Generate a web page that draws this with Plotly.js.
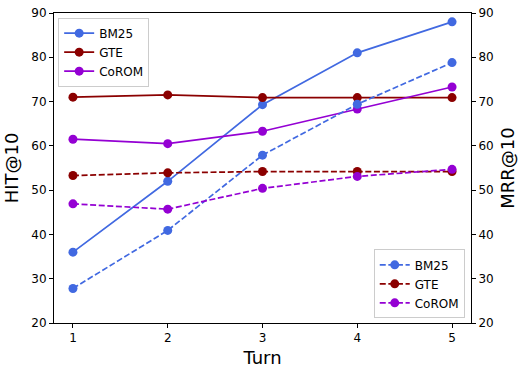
<!DOCTYPE html>
<html>
<head>
<meta charset="utf-8">
<script src="https://cdn.plot.ly/plotly-3.0.1.min.js"></script>
<style>
    html, body { margin: 0; padding: 0; background: #fff; }
    #chart { width: 525px; height: 374px; }
</style>
</head>
<body>
<div id="chart"></div>
<script>
// turns on the x axis
const turns = [1, 2, 3, 4, 5];

// HIT@10 (solid, left axis)
const hitBM25 = [36, 52, 69.3, 81, 88];
const hitGTE = [71, 71.5, 70.9, 70.9, 70.9];
const hitCoROM = [61.5, 60.5, 63.3, 68.3, 73.3];

// MRR@10 (dashed, right axis)
const mrrBM25 = [27.8, 40.9, 57.9, 69.4, 78.8];
const mrrGTE = [53.3, 53.9, 54.2, 54.2, 54.2];
const mrrCoROM = [46.9, 45.7, 50.4, 53.1, 54.7];

const yTicks = [20, 30, 40, 50, 60, 70, 80, 90];

const colors = {
    BM25: 'royalblue',
    GTE: 'darkred',
    CoROM: 'darkviolet'
};

/**
 * Builds one line trace.
 */
function makeTrace(name, values, dashed) {
    return {
        x: turns,
        y: values,
        type: 'scatter',
        mode: 'lines+markers',
        name: name,
        line: { color: colors[name], width: 1.7, dash: dashed ? '6px,2.6px' : 'solid' },
        marker: { color: colors[name], size: 9 },
        yaxis: dashed ? 'y2' : 'y',
        legend: dashed ? 'legend2' : 'legend'
    };
}

const traces = [
    makeTrace('BM25', hitBM25, false),
    makeTrace('GTE', hitGTE, false),
    makeTrace('CoROM', hitCoROM, false),
    makeTrace('BM25', mrrBM25, true),
    makeTrace('GTE', mrrGTE, true),
    makeTrace('CoROM', mrrCoROM, true)
];

const axisFont = { family: 'DejaVu Sans', size: 12, color: '#000' };
const titleFont = { family: 'DejaVu Sans', size: 18, color: '#000' };

const legendStyle = {
    font: { family: 'DejaVu Sans', size: 12, color: '#000' },
    bgcolor: 'rgba(255,255,255,0.8)',
    bordercolor: '#cccccc',
    borderwidth: 1,
    itemwidth: 30,
    tracegroupgap: 0
};

const layout = {
    width: 525,
    height: 374,
    margin: { l: 54, r: 54, t: 13, b: 51 },
    paper_bgcolor: '#fff',
    plot_bgcolor: '#fff',
    showlegend: true,
    xaxis: {
        range: [0.8, 5.2],
        tickvals: turns,
        ticks: 'outside',
        ticklen: 4,
        tickcolor: '#000',
        showgrid: false,
        zeroline: false,
        showline: true,
        linecolor: '#000',
        linewidth: 1,
        mirror: true,
        tickfont: axisFont,
        title: { text: 'Turn', font: titleFont, standoff: 6 }
    },
    yaxis: {
        range: [20, 90],
        tickvals: yTicks,
        ticks: 'outside',
        ticklen: 4,
        tickcolor: '#000',
        showgrid: false,
        zeroline: false,
        showline: true,
        linecolor: '#000',
        linewidth: 1,
        tickfont: axisFont,
        title: { text: 'HIT@10', font: titleFont, standoff: 8 }
    },
    yaxis2: {
        range: [20, 90],
        tickvals: yTicks,
        overlaying: 'y',
        side: 'right',
        ticks: 'outside',
        ticklen: 4,
        tickcolor: '#000',
        showgrid: false,
        zeroline: false,
        showline: true,
        linecolor: '#000',
        linewidth: 1,
        tickfont: axisFont,
        title: { text: 'MRR@10', font: titleFont, standoff: 8 }
    },
    legend: Object.assign({
        x: 0.01, y: 0.985, xanchor: 'left', yanchor: 'top'
    }, legendStyle),
    legend2: Object.assign({
        x: 0.985, y: 0.015, xanchor: 'right', yanchor: 'bottom'
    }, legendStyle)
};

Plotly.newPlot('chart', traces, layout, { displayModeBar: false, staticPlot: true });
</script>
</body>
</html>
